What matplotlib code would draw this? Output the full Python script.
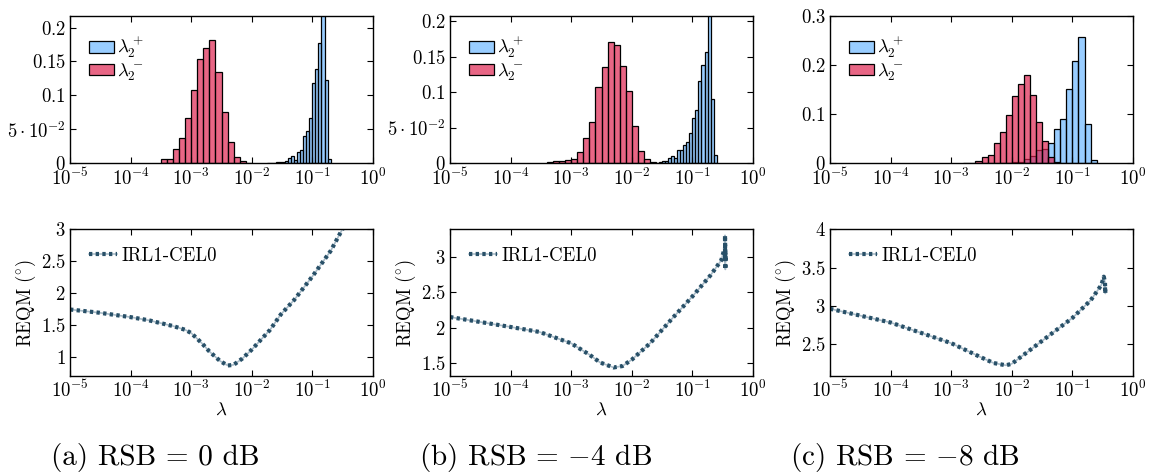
import numpy as np
import matplotlib
matplotlib.use("Agg")
import matplotlib.pyplot as plt
from matplotlib.ticker import FixedLocator, FixedFormatter

plt.rcParams["font.family"] = "serif"
plt.rcParams["font.serif"] = ["cmr10"]
plt.rcParams["mathtext.fontset"] = "cm"
plt.rcParams["axes.unicode_minus"] = False
plt.rcParams["axes.formatter.use_mathtext"] = True

# -----------------------------------------------------------------------------
# Data
# histogram bins: first log10 edge, log10 bin width, bar heights
# -----------------------------------------------------------------------------

A_POS_LO, A_POS_W = -1.75, 0.05
A_POS = [0.001, 0.001, 0.001, 0.002, 0.002, 0.002, 0.003, 0.008, 0.011, 0.005,
         0.017, 0.020, 0.040, 0.048, 0.067, 0.119, 0.139, 0.177, 0.23, 0.123, 0.006]
A_NEG_LO, A_NEG_W = -3.5, 0.1
A_NEG = [0.006, 0.006, 0.021, 0.038, 0.066, 0.108, 0.153, 0.170, 0.182, 0.134,
         0.076, 0.031, 0.009, 0.003, 0.001]

B_POS_LO, B_POS_W = -1.60, 0.05
B_POS = [0.001, 0.0019, 0.0028, 0.0037, 0.007, 0.010, 0.0075, 0.018, 0.019, 0.026,
         0.030, 0.042, 0.063, 0.075, 0.115, 0.138, 0.156, 0.22, 0.091, 0.012]
B_NEG_LO, B_NEG_W = -3.4, 0.1
B_NEG = [0.0014, 0.003, 0.003, 0.004, 0.0056, 0.016, 0.035, 0.058, 0.107, 0.136,
         0.171, 0.166, 0.137, 0.102, 0.053, 0.017, 0.0065, 0.002]

C_POS_LO, C_POS_W = -2.2, 0.1
C_POS = [0.0005, 0.001, 0.002, 0.003, 0.008, 0.014, 0.028, 0.030, 0.041, 0.070,
         0.091, 0.152, 0.209, 0.257, 0.080, 0.006]
C_NEG_LO, C_NEG_W = -2.8, 0.1
C_NEG = [0.001, 0.0005, 0.004, 0.012, 0.016, 0.042, 0.064, 0.098, 0.137, 0.161,
         0.179, 0.140, 0.085, 0.046, 0.012, 0.002]

# REQM curves
A_LAM = [1e-5, 3e-5, 1e-4, 2e-4, 5e-4, 8e-4, 1e-3, 1.5e-3, 2e-3, 3e-3, 4e-3, 5e-3,
         7e-3, 1e-2, 2e-2, 3e-2, 5e-2, 1e-1, 2e-1, 3e-1, 0.34]
A_REQM = [1.74, 1.69, 1.62, 1.57, 1.48, 1.42, 1.37, 1.21, 1.08, 0.93, 0.86, 0.87,
          0.97, 1.11, 1.42, 1.66, 1.89, 2.26, 2.66, 2.97, 3.06]

B_LAM = [1e-5, 1e-4, 3e-4, 1e-3, 2e-3, 3e-3, 5e-3, 7e-3, 1e-2, 2e-2, 5e-2, 1e-1,
         2e-1, 3e-1, 0.33, 0.345, 0.35, 0.345, 0.35, 0.35]
B_REQM = [2.15, 2.01, 1.94, 1.78, 1.62, 1.51, 1.44, 1.46, 1.55, 1.78, 2.16, 2.44,
          2.74, 2.95, 3.08, 3.12, 2.95, 3.30, 2.82, 3.05]

C_LAM = [1e-5, 1e-4, 1e-3, 3e-3, 5e-3, 8e-3, 1e-2, 2e-2, 5e-2, 1e-1, 2e-1, 3e-1,
         0.33, 0.345, 0.35, 0.345]
C_REQM = [2.96, 2.78, 2.51, 2.33, 2.25, 2.22, 2.24, 2.42, 2.66, 2.84, 3.07, 3.27,
          3.38, 3.30, 3.16, 3.24]

CAPTIONS = ["(a) RSB = 0 dB", r"(b) RSB = $-$4 dB", r"(c) RSB = $-$8 dB"]

TOP_YTICKS = [[0, 0.05, 0.1, 0.15, 0.2], [0, 0.05, 0.1, 0.15, 0.2], [0, 0.1, 0.2, 0.3]]
TOP_YLABELS = [["$0$", r"$5\cdot10^{-2}$", "$0.1$", "$0.15$", "$0.2$"],
               ["$0$", r"$5\cdot10^{-2}$", "$0.1$", "$0.15$", "$0.2$"],
               ["$0$", "$0.1$", "$0.2$", "$0.3$"]]
TOP_YLIM = [0.217, 0.207, 0.3]

BOT_YTICKS = [[1, 1.5, 2, 2.5, 3], [1.5, 2, 2.5, 3], [2.5, 3, 3.5, 4]]
BOT_YLABELS = [["$1$", "$1.5$", "$2$", "$2.5$", "$3$"],
               ["$1.5$", "$2$", "$2.5$", "$3$"],
               ["$2.5$", "$3$", "$3.5$", "$4$"]]
BOT_YLIM = [(0.695, 3.0), (1.32, 3.385), (2.08, 4.0)]

BLUE = (30 / 255, 144 / 255, 1.0, 0.45)
RED = (222 / 255, 30 / 255, 75 / 255, 0.68)
LINE = "#285068"
FS = 13.5

W, H = 1152, 474
LEFTS = [70, 450, 830]
WIDTH = 303
CAP_X = [155, 536, 905]


def style_axes(ax):
    ax.set_xscale("log")
    ax.set_xlim(1e-5, 1)
    ax.tick_params(which="both", direction="in", top=True, right=True, labelsize=FS)
    ax.tick_params(which="major", length=4, width=0.8, pad=3)
    ax.tick_params(which="minor", length=2, width=0.6)
    ax.tick_params(axis="y", which="minor", left=False, right=False)
    ax.xaxis.set_major_locator(matplotlib.ticker.LogLocator(base=10, numticks=10))
    for s in ax.spines.values():
        s.set_linewidth(1.0)


def log_hist(ax, lo, w, heights, color, label):
    edges = 10 ** (lo + w * np.arange(len(heights) + 1))
    centers = np.sqrt(edges[:-1] * edges[1:])
    ax.hist(centers, bins=edges, weights=heights, color=color, edgecolor="black",
            linewidth=0.9, label=label)


fig = plt.figure(figsize=(W / 100, H / 100), dpi=100)

hist_data = [(A_POS_LO, A_POS_W, A_POS, A_NEG_LO, A_NEG_W, A_NEG),
             (B_POS_LO, B_POS_W, B_POS, B_NEG_LO, B_NEG_W, B_NEG),
             (C_POS_LO, C_POS_W, C_POS, C_NEG_LO, C_NEG_W, C_NEG)]
curves = [(A_LAM, A_REQM), (B_LAM, B_REQM), (C_LAM, C_REQM)]

for i in range(3):
    # top: histograms
    ax = fig.add_axes([LEFTS[i] / W, (H - 163.3) / H, WIDTH / W, 147.3 / H])
    plo, pw, ph, nlo, nw, nh = hist_data[i]
    log_hist(ax, plo, pw, ph, BLUE, r"$\lambda_2^+$")
    log_hist(ax, nlo, nw, nh, RED, r"$\lambda_2^-$")
    style_axes(ax)
    ax.set_ylim(0, TOP_YLIM[i])
    ax.yaxis.set_major_locator(FixedLocator(TOP_YTICKS[i]))
    ax.yaxis.set_major_formatter(FixedFormatter(TOP_YLABELS[i]))
    ax.legend(loc="upper left", frameon=False, fontsize=FS, handlelength=1.3,
              handleheight=0.6, handletextpad=0.2, labelspacing=0.05,
              borderaxespad=0.3, bbox_to_anchor=(0.02, 0.97))

    # bottom: REQM vs lambda
    ax2 = fig.add_axes([LEFTS[i] / W, (H - 376) / H, WIDTH / W, 146.7 / H])
    lam, reqm = curves[i]
    under, = ax2.plot(lam, reqm, color="#a9bcc8", lw=1.2)
    over, = ax2.plot(lam, reqm, color=LINE, lw=3, linestyle=(0, (0.8, 0.8)))
    style_axes(ax2)
    ax2.set_ylim(*BOT_YLIM[i])
    ax2.yaxis.set_major_locator(FixedLocator(BOT_YTICKS[i]))
    ax2.yaxis.set_major_formatter(FixedFormatter(BOT_YLABELS[i]))
    ax2.set_xlabel(r"$\lambda$", fontsize=FS, labelpad=0)
    ax2.set_ylabel(r"REQM (${}^{\circ}$)", fontsize=FS, labelpad=2)
    ax2.legend([(under, over)], ["IRL1-CEL0"], loc="upper left", frameon=False,
               fontsize=FS, handlelength=1.5, handletextpad=0.2,
               borderaxespad=0.3, bbox_to_anchor=(0.02, 0.97))

    fig.text(CAP_X[i] / W, 1 - 458 / H, CAPTIONS[i], fontsize=21,
             ha="center", va="center")

fig.savefig("out.png", dpi=100)
